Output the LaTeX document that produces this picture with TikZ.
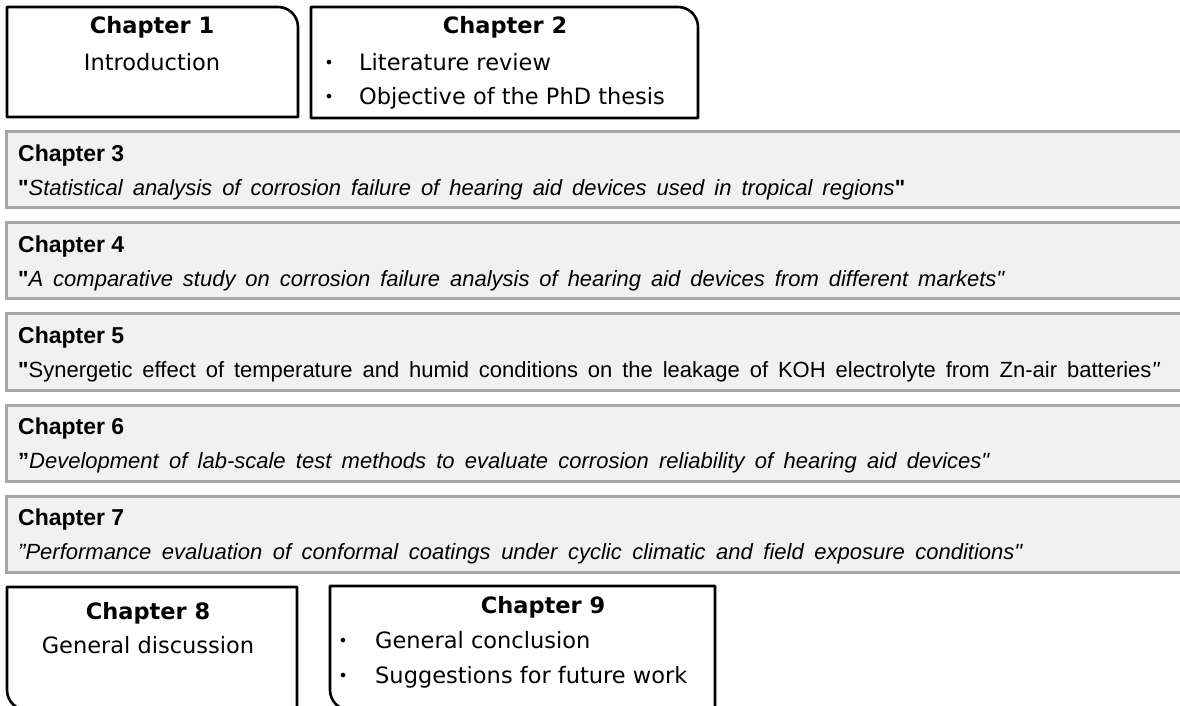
\documentclass[tikz,border=0pt]{standalone}
\usepackage{fontspec}
\newfontfamily\arial{Liberation Sans}
\newfontfamily\verd{DejaVu Sans}
\definecolor{greyfill}{HTML}{F1F1F1}
\definecolor{greyline}{HTML}{A6A6A6}
\begin{document}
\begin{tikzpicture}[x=1pt,y=1pt,
  chapbox/.style={draw=black,line width=2.6pt,line join=round},
  greybox/.style={draw=greyline,fill=greyfill,line width=3pt},
  vtitle/.style={font=\verd\bfseries\fontsize{22.5}{27}\selectfont,inner sep=0pt,anchor=base},
  vcentre/.style={font=\verd\fontsize{22.5}{27}\selectfont,inner sep=0pt,anchor=base},
  vtext/.style={font=\verd\fontsize{22.5}{27}\selectfont,inner sep=0pt,anchor=base west},
  vbullet/.style={font=\verd\fontsize{16}{20}\selectfont,inner sep=0pt,anchor=base},
  glabel/.style={font=\arial\bfseries\fontsize{23}{27}\selectfont,inner sep=0pt,anchor=base west},
  gquote/.style={font=\arial\fontsize{22}{27}\selectfont,inner sep=0pt,anchor=base west}]
\useasboundingbox (0,0) rectangle (1180,705);
\fill[white] (0,0) rectangle (1180,705);

% Chapter 1
\draw[chapbox] (7,588) -- (7,698) -- (278,698) arc[start angle=90,end angle=0,radius=20] -- (298,588) -- cycle;
\node[vtitle] (c1t) at (152,671) {Chapter 1};
\node[vcentre] (c1a) at (152,634) {Introduction};

% Chapter 2
\draw[chapbox] (311,587) -- (311,698) -- (678,698) arc[start angle=90,end angle=0,radius=20] -- (698,587) -- cycle;
\node[vtitle] (c2t) at (505,671) {Chapter 2};
\node[vbullet] (c2d1) at (329,636) {•};
\node[vbullet] (c2d2) at (329,602) {•};
\node[vtext] (c2a) at (359,634) {Literature review};
\node[vtext] (c2b) at (359,600) {Objective of the PhD thesis};

% Grey chapters
\draw[greybox] (6,497) rectangle (1200,573);
\node[glabel] (c3t) at (18,543.5) {Chapter 3};
\node[gquote] (c3q) at (18,509.5) {\makebox[887pt][s]{\textbf{"}\textit{Statistical analysis of corrosion failure of hearing aid devices used in tropical regions}\textbf{"}}};

\draw[greybox] (6,406) rectangle (1200,482);
\node[glabel] (c4t) at (18,452.5) {Chapter 4};
\node[gquote] (c4q) at (18,418.5) {\makebox[987pt][s]{\textbf{"}\textit{A comparative study on corrosion failure analysis of hearing aid devices from different markets"}}};

\draw[greybox] (6,315) rectangle (1200,391);
\node[glabel] (c5t) at (18,361.5) {Chapter 5};
\node[gquote] (c5q) at (18,327.5) {\makebox[1142pt][s]{\textbf{"}Synergetic effect of temperature and humid conditions on the leakage of KOH electrolyte from Zn-air batteries\textit{"}}};

\draw[greybox] (6,224) rectangle (1200,300);
\node[glabel] (c6t) at (18,270.5) {Chapter 6};
\node[gquote] (c6q) at (18,236.5) {\makebox[972pt][s]{\textbf{”}\textit{Development of lab-scale test methods to evaluate corrosion reliability of hearing aid devices"}}};

\draw[greybox] (6,133) rectangle (1200,209);
\node[glabel] (c7t) at (18,179.5) {Chapter 7};
\node[gquote] (c7q) at (18,145.5) {\makebox[1005pt][s]{\textit{”Performance evaluation of conformal coatings under cyclic climatic and field exposure conditions"}}};

% Chapter 8
\draw[chapbox] (7,118) -- (297,118) -- (297,-5) -- (27,-5) arc[start angle=270,end angle=180,radius=20] -- cycle;
\node[vtitle] (c8t) at (148,86) {Chapter 8};
\node[vcentre] (c8a) at (148,52) {General discussion};

% Chapter 9
\draw[chapbox] (330,119) -- (715,119) -- (715,-5) -- (350,-5) arc[start angle=270,end angle=180,radius=20] -- cycle;
\node[vtitle] (c9t) at (543,92) {Chapter 9};
\node[vbullet] (c9d1) at (343,59) {•};
\node[vbullet] (c9d2) at (343,24) {•};
\node[vtext] (c9a) at (375,57) {General conclusion};
\node[vtext] (c9b) at (375,22) {Suggestions for future work};
\end{tikzpicture}
\end{document}
